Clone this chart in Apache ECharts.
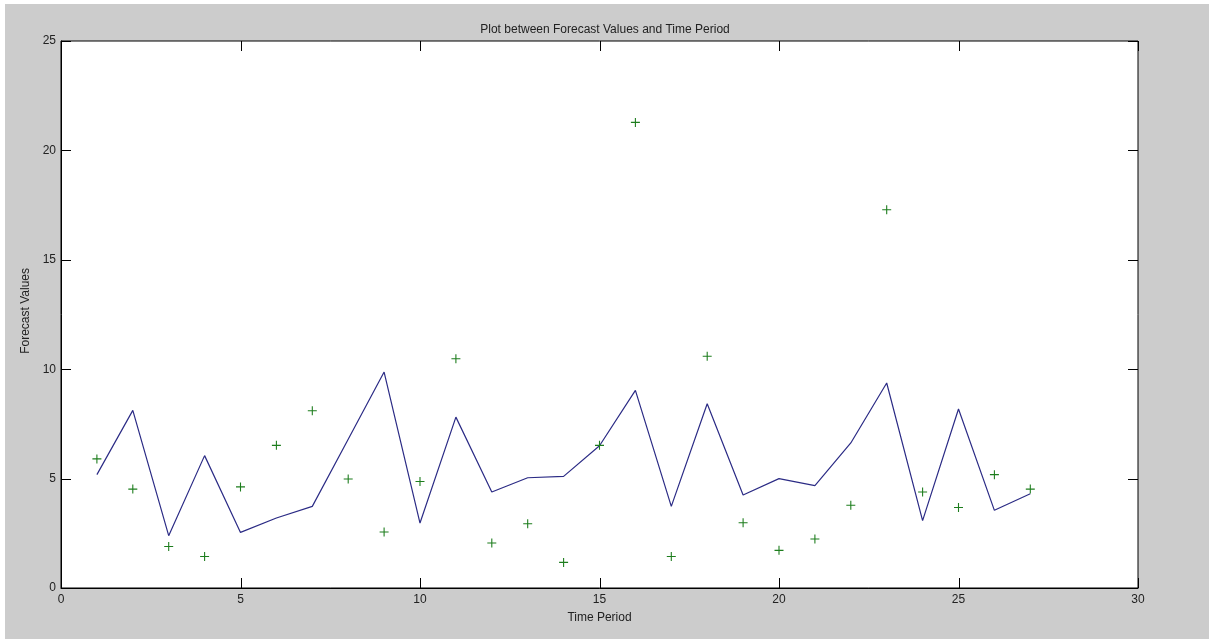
<!DOCTYPE html>
<html>
<head>
<meta charset="utf-8">
<script src="https://cdn.jsdelivr.net/npm/echarts@6/dist/echarts.min.js"></script>
<style>
html,body{margin:0;padding:0;background:#cccccc;}
#c{width:1209px;height:639px;}
</style>
</head>
<body>
<div id="c"></div>
<script>
var timePeriods = [1,2,3,4,5,6,7,8,9,10,11,12,13,14,15,16,17,18,19,20,21,22,23,24,25,26,27];
var forecastLine = [5.18,8.12,2.39,6.05,2.54,3.2,3.73,6.8,9.87,2.97,7.81,4.39,5.04,5.1,6.5,9.03,3.73,8.42,4.25,5.0,4.68,6.63,9.37,3.08,8.18,3.55,4.31];
var actualPoints = [5.9,4.52,1.9,1.44,4.62,6.52,8.1,4.98,2.56,4.87,10.48,2.06,2.94,1.17,6.52,21.28,1.44,10.59,2.98,1.72,2.24,3.78,17.29,4.39,3.68,5.18,4.52];
var xTicks = [0,5,10,15,20,25,30];
var yTicks = [0,5,10,15,20,25];

var chart = echarts.init(document.getElementById('c'));
var lineData = timePeriods.map(function(t,i){return [t, forecastLine[i]];});
var ptData = timePeriods.map(function(t,i){return [t, actualPoints[i]];});
var font = 'Liberation Sans, Arial, sans-serif';
var plus = 'path://M4.4,0 H5.6 V4.4 H10 V5.6 H5.6 V10 H4.4 V5.6 H0 V4.4 H4.4 Z';
var xMax = 30, yMax = 25;

// inward ticks on all four sides, placed through the axes' scales
var tickData = [];
xTicks.forEach(function(v){ tickData.push([v, yMax, 0]); tickData.push([v, 0, 2]); });
yTicks.forEach(function(v){ tickData.push([xMax, v, 1]); tickData.push([0, v, 3]); });

chart.setOption({
  backgroundColor: '#cccccc',
  animation: false,
  title: {
    text: 'Plot between Forecast Values and Time Period',
    left: 600, top: 19, textAlign: 'center',
    textStyle: {fontFamily: font, fontSize: 12, fontWeight: 'normal', color: '#222'}
  },
  graphic: [
    {type:'rect', shape:{x:0,y:0,width:1209,height:4}, style:{fill:'#ffffff'}, z:-10},
    {type:'rect', shape:{x:0,y:0,width:5,height:639}, style:{fill:'#ffffff'}, z:-10},
    {type:'text', left: 20, top: 268, rotation: Math.PI/2, style:{text:'Forecast Values', font:'12px Liberation Sans, Arial, sans-serif', fill:'#222'}}
  ],
  grid: {left: 61, right: 71, top: 41, bottom: 51, show: true, backgroundColor: '#ffffff', borderColor: '#000', borderWidth: 1},
  xAxis: {
    type: 'value', min: 0, max: xMax, interval: 5, position: 'bottom',
    name: 'Time Period', nameLocation: 'middle', nameGap: 24,
    nameTextStyle: {fontFamily: font, fontSize: 12, color: '#222'},
    axisLine: {show: true, lineStyle: {color: '#000', width: 1}},
    axisTick: {show: false},
    axisLabel: {fontFamily: font, fontSize: 12, color: '#222', margin: 6,
      formatter: function(v){ return xTicks.indexOf(v) >= 0 ? String(v) : ''; }},
    splitLine: {show: false}
  },
  yAxis: {
    type: 'value', min: 0, max: yMax, interval: 5, position: 'left',
    axisLine: {show: true, lineStyle: {color: '#000', width: 1}},
    axisTick: {show: false},
    axisLabel: {fontFamily: font, fontSize: 12, color: '#222', margin: 5,
      formatter: function(v){ return yTicks.indexOf(v) >= 0 ? String(v) : ''; }},
    splitLine: {show: false}
  },
  series: [{
    type: 'line', data: lineData, showSymbol: false, symbol: 'none',
    lineStyle: {color: '#2b2b85', width: 1.2}, z: 3
  },{
    type: 'scatter', data: ptData, symbol: plus, symbolSize: 9,
    itemStyle: {color: '#1d7d1d', opacity: 1}, z: 4
  },{
    type: 'custom', data: tickData, silent: true, clip: false, z: 100, zlevel: 1,
    renderItem: function(params, api){
      var p = api.coord([api.value(0), api.value(1)]);
      var kind = api.value(2);
      var x = Math.round(p[0]), y = Math.round(p[1]);
      var shape;
      if (kind === 0) shape = {x: x, y: y, width: 1, height: 10};
      else if (kind === 2) shape = {x: x, y: y - 10, width: 1, height: 10};
      else if (kind === 1) shape = {x: x - 10, y: y, width: 10, height: 1};
      else shape = {x: x, y: y, width: 10, height: 1};
      return {type: 'rect', shape: shape, style: {fill: '#000'}};
    }
  }]
});
</script>
</body>
</html>
